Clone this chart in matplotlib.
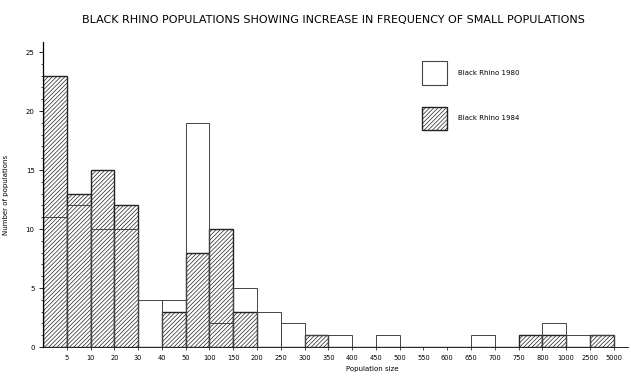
import numpy as np
import matplotlib
matplotlib.use('Agg')
import matplotlib.pyplot as plt
from matplotlib.patches import Patch

# upper bound of each population-size class
size_labels=['5','10','20','30','40','50','100','150','200','250','300','350',
             '400','450','500','550','600','650','700','750','800','1000','2500','5000']
# number of populations in each class
rhino_1980=[11,12,10,10,4,4,19,2,5,3,2,1,1,0,1,0,0,0,1,0,0,2,1,1]
rhino_1984=[23,13,15,12,0,3,8,10,3,0,0,1,0,0,0,0,0,0,0,0,1,1,0,1]

plt.rcParams['hatch.linewidth']=0.5
plt.rcParams['hatch.color']='#555555'

fig=plt.figure(figsize=(6.31,3.77),dpi=100)
ax=fig.add_axes([43/631,1-347/377,(628-43)/631,(347-42)/377])

x=np.arange(len(size_labels))
ax.bar(x,rhino_1984,width=1.0,align='edge',facecolor='white',edgecolor='#222222',
       linewidth=1.0,hatch='////////')
ax.bar(x,rhino_1980,width=1.0,align='edge',fill=False,edgecolor='#444444',linewidth=0.7)

ax.set_xlim(0,24.6)
ax.set_ylim(0,25.85)
ax.set_yticks([0,5,10,15,20,25])
ax.set_yticks(np.arange(0,26,1),minor=True)
ax.set_xticks(x+1)
ax.set_xticklabels(size_labels)
ax.tick_params(axis='y',labelsize=5,length=3,width=0.6,pad=3)
ax.tick_params(axis='y',which='minor',length=1.5,width=0.5)
ax.tick_params(axis='x',labelsize=4.8,length=2,width=0.5,pad=4)
for side in ['top','right']:
    ax.spines[side].set_visible(False)
ax.spines['left'].set_linewidth(0.9)
ax.spines['bottom'].set_linewidth(0.6)

ax.set_xlabel('Population size',fontsize=5)
ax.xaxis.set_label_coords(329/585,-19/305)
ax.set_ylabel('Number of populations',fontsize=5,labelpad=12)

fig.text(333/631,1-20/377,'BLACK RHINO POPULATIONS SHOWING INCREASE IN FREQUENCY OF SMALL POPULATIONS',
         ha='center',va='center',fontsize=8)

handles=[Patch(facecolor='white',edgecolor='#444444',linewidth=0.8),
         Patch(facecolor='white',edgecolor='#222222',linewidth=1.0,hatch='////////')]
ax.legend(handles,['Black Rhino 1980','Black Rhino 1984'],fontsize=5,frameon=False,
          handlelength=3.6,handleheight=4.9,labelspacing=3.1,handletextpad=1.6,
          loc='upper left',bbox_to_anchor=(373/585,(305-13)/305))

fig.savefig('out.png',dpi=100)
